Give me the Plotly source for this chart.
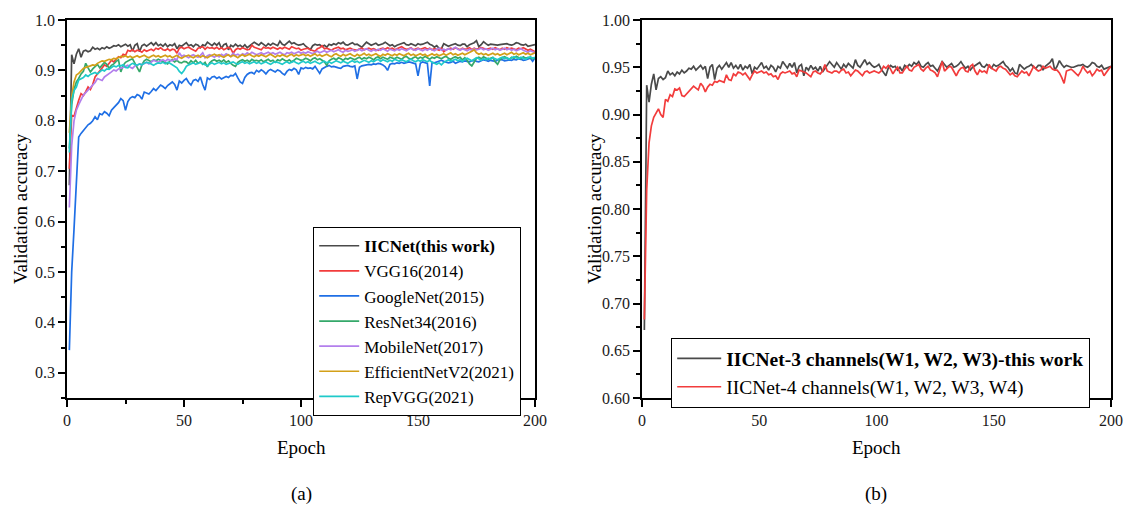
import plotly.graph_objects as go

# ---------------------------------------------------------------------------
# Validation accuracy per epoch (values stored in thousandths)
# ---------------------------------------------------------------------------
EPOCHS = list(range(1, 201))

IICNET = [
    672, 931, 913, 932, 943, 926, 938, 940, 937, 939, 946, 942, 944, 941, 945, 943, 947, 944, 946, 949,
    948, 951, 947, 950, 952, 948, 951, 938, 950, 953, 937, 949, 952, 948, 951, 955, 950, 955, 949, 952,
    948, 953, 947, 951, 949, 953, 943, 950, 948, 952, 955, 949, 951, 947, 952, 950, 945, 951, 949, 956,
    952, 949, 954, 950, 955, 944, 951, 953, 941, 950, 947, 952, 948, 950, 946, 951, 945, 949, 952, 956,
    953, 950, 955, 951, 948, 953, 950, 954, 951, 949, 958, 952, 950, 954, 958, 953, 955, 952, 950, 951,
    953, 948, 945, 941, 949, 952, 950, 951, 947, 950, 946, 952, 950, 953, 951, 955, 953, 956, 951, 950,
    953, 955, 951, 952, 949, 946, 951, 956, 953, 950, 952, 954, 950, 951, 953, 956, 952, 949, 951, 947,
    950, 952, 954, 955, 951, 950, 953, 951, 949, 953, 951, 952, 954, 956, 952, 950, 946, 949, 944, 943,
    953, 951, 948, 950, 951, 953, 950, 949, 952, 952, 947, 951, 953, 955, 959, 947, 951, 957, 953, 950,
    952, 951, 950, 950, 951, 952, 952, 953, 951, 950, 952, 955, 954, 951, 950, 952, 948, 949, 950, 951,
]

IICNET_4CH = [
    683, 820, 870, 888, 897, 902, 906, 900, 897, 916, 914, 921, 919, 927, 926, 928, 920, 919, 922, 925,
    927, 930, 928, 926, 933, 930, 924, 929, 932, 931, 935, 934, 936, 935, 934, 942, 937, 936, 943, 941,
    945, 944, 942, 944, 940, 937, 942, 946, 944, 945, 946, 944, 945, 942, 943, 940, 941, 937, 943, 945,
    944, 945, 946, 943, 944, 940, 947, 946, 945, 944, 942, 940, 945, 946, 944, 943, 946, 953, 946, 945,
    944, 946, 946, 944, 947, 948, 944, 945, 941, 944, 947, 946, 943, 941, 945, 946, 944, 945, 946, 945,
    944, 946, 951, 949, 952, 948, 943, 947, 950, 944, 944, 948, 951, 947, 946, 950, 952, 953, 948, 946,
    949, 951, 947, 946, 944, 940, 948, 956, 946, 949, 951, 950, 945, 941, 946, 949, 950, 946, 945, 951,
    953, 946, 942, 947, 945, 946, 944, 953, 949, 947, 946, 950, 951, 949, 948, 945, 942, 944, 941, 940,
    943, 946, 944, 945, 941, 946, 951, 948, 946, 947, 951, 949, 950, 951, 948, 947, 947, 944, 939, 933,
    946, 947, 948, 946, 944, 941, 945, 951, 947, 944, 946, 941, 944, 948, 946, 947, 941, 945, 948, 951,
]

VGG16 = [
    705, 811, 809, 828, 841, 854, 850, 858, 867, 862, 872, 887, 893, 899, 904, 911, 908, 915, 920, 917,
    923, 927, 925, 932, 930, 940, 938, 941, 937, 940, 939, 936, 941, 938, 940, 942, 939, 944, 942, 945,
    941, 940, 943, 939, 942, 941, 934, 944, 946, 943, 945, 946, 943, 940, 938, 944, 946, 947, 942, 946,
    944, 945, 943, 946, 942, 945, 941, 944, 946, 943, 934, 941, 944, 942, 945, 943, 941, 942, 950, 946,
    944, 943, 941, 946, 944, 945, 943, 946, 944, 942, 945, 943, 946, 944, 942, 947, 945, 943, 944, 940,
    942, 943, 944, 941, 939, 938, 943, 945, 949, 943, 944, 942, 940, 943, 945, 946, 943, 944, 941, 942,
    944, 942, 941, 940, 943, 944, 941, 943, 944, 942, 943, 941, 940, 943, 944, 942, 945, 943, 944, 941,
    943, 945, 947, 944, 942, 943, 945, 941, 943, 944, 942, 943, 945, 942, 944, 941, 943, 942, 940, 944,
    937, 941, 943, 944, 942, 945, 943, 941, 944, 942, 943, 945, 941, 944, 942, 943, 945, 944, 942, 943,
    944, 942, 945, 943, 941, 944, 942, 945, 943, 944, 942, 941, 944, 943, 945, 942, 940, 942, 939, 937,
]

GOOGLENET = [
    345, 500, 585, 680, 768, 775, 781, 788, 792, 795, 800, 808, 802, 814, 812, 818, 815, 810, 821, 826,
    831, 836, 844, 840, 821, 838, 845, 848, 846, 852, 850, 843, 857, 855, 853, 858, 864, 860, 866, 871,
    868, 864, 870, 873, 877, 872, 861, 879, 875, 880, 884, 876, 871, 880, 882, 878, 887, 872, 861, 885,
    882, 887, 888, 884, 887, 883, 885, 888, 886, 890, 889, 894, 885, 877, 874, 886, 892, 895, 896, 893,
    900, 897, 901, 898, 893, 899, 902, 900, 897, 901, 899, 894, 891, 898, 902, 900, 904, 901, 892, 905,
    903, 906, 904, 905, 903, 908, 902, 894, 903, 906, 908, 910, 907, 908, 906, 905, 904, 908, 909, 910,
    908, 907, 909, 883, 906, 909, 910, 911, 912, 911, 913, 912, 914, 913, 911, 907, 900, 912, 914, 913,
    915, 914, 916, 914, 915, 917, 916, 915, 913, 889, 914, 917, 915, 914, 869, 916, 915, 917, 918, 920,
    918, 917, 915, 916, 918, 914, 916, 918, 917, 919, 918, 917, 919, 920, 918, 917, 919, 921, 920, 918,
    920, 919, 918, 920, 922, 921, 919, 920, 921, 920, 922, 921, 923, 922, 920, 921, 923, 924, 918, 925,
]

RESNET34 = [
    745, 832, 862, 877, 884, 893, 898, 914, 905, 897, 903, 908, 912, 905, 910, 916, 912, 904, 910, 913,
    918, 921, 897, 910, 916, 919, 921, 923, 915, 906, 897, 911, 919, 922, 920, 917, 921, 919, 922, 920,
    918, 915, 913, 919, 921, 917, 920, 916, 915, 918, 917, 913, 919, 915, 920, 914, 917, 912, 916, 907,
    915, 919, 921, 918, 920, 917, 921, 916, 919, 914, 910, 908, 916, 919, 921, 918, 920, 917, 922, 919,
    920, 918, 921, 917, 919, 922, 918, 920, 916, 921, 919, 923, 920, 918, 921, 917, 920, 924, 922, 920,
    921, 924, 922, 919, 923, 925, 921, 923, 920, 917, 910, 919, 922, 924, 921, 925, 923, 920, 924, 922,
    925, 923, 921, 924, 926, 922, 925, 923, 926, 924, 921, 925, 927, 923, 926, 924, 922, 926, 925, 923,
    926, 924, 922, 926, 928, 924, 922, 925, 927, 923, 926, 924, 928, 925, 922, 926, 924, 927, 925, 923,
    926, 928, 924, 922, 925, 927, 924, 926, 921, 925, 920, 913, 909, 918, 924, 926, 923, 927, 925, 922,
    924, 926, 917, 912, 921, 925, 927, 924, 922, 926, 924, 928, 925, 923, 927, 924, 926, 925, 923, 925,
]

MOBILENET = [
    628, 750, 800, 821, 832, 841, 851, 856, 861, 866, 871, 876, 884, 882, 880, 887, 890, 894, 897, 901,
    899, 903, 904, 906, 908, 910, 906, 904, 909, 911, 913, 911, 914, 916, 913, 917, 920, 918, 916, 919,
    921, 918, 922, 920, 919, 923, 921, 935, 928, 930, 927, 925, 929, 931, 928, 926, 930, 935, 925, 929,
    931, 928, 926, 930, 927, 932, 929, 933, 931, 928, 934, 930, 932, 929, 933, 931, 935, 932, 936, 934,
    931, 933, 935, 932, 934, 936, 933, 935, 932, 934, 936, 933, 931, 935, 934, 936, 933, 935, 937, 934,
    936, 934, 937, 935, 933, 936, 938, 935, 937, 939, 936, 938, 940, 937, 939, 941, 938, 936, 940, 938,
    939, 941, 938, 940, 942, 939, 941, 943, 940, 938, 941, 939, 942, 940, 943, 941, 938, 942, 940, 939,
    942, 940, 943, 941, 939, 942, 944, 941, 940, 943, 941, 939, 942, 940, 943, 941, 939, 942, 944, 940,
    942, 940, 943, 941, 944, 946, 942, 940, 943, 941, 939, 942, 940, 943, 941, 942, 944, 941, 943, 940,
    942, 944, 941, 943, 940, 942, 944, 941, 943, 940, 942, 939, 941, 943, 940, 938, 936, 939, 937, 935,
]

EFFICIENTNETV2 = [
    776, 848, 877, 891, 894, 900, 904, 906, 907, 909, 911, 910, 914, 916, 919, 918, 920, 922, 921, 924,
    923, 926, 928, 927, 929, 926, 928, 925, 927, 929, 926, 928, 930, 927, 925, 928, 930, 927, 929, 926,
    928, 930, 927, 929, 925, 928, 930, 926, 924, 927, 929, 930, 927, 925, 928, 930, 926, 929, 927, 925,
    928, 930, 932, 929, 931, 928, 926, 929, 931, 927, 930, 928, 925, 929, 931, 928, 930, 932, 929, 927,
    930, 928, 931, 929, 927, 930, 932, 929, 926, 930, 928, 931, 929, 927, 930, 932, 928, 931, 929, 930,
    932, 929, 931, 928, 930, 933, 929, 931, 928, 930, 932, 929, 927, 931, 933, 930, 928, 932, 929, 931,
    933, 930, 928, 932, 929, 931, 934, 930, 932, 929, 931, 933, 930, 928, 932, 930, 933, 931, 929, 932,
    930, 933, 931, 929, 932, 934, 930, 932, 929, 931, 933, 930, 932, 928, 931, 933, 930, 932, 929, 931,
    933, 930, 932, 935, 931, 933, 930, 932, 934, 931, 933, 936, 938, 941, 935, 932, 934, 931, 933, 930,
    932, 934, 931, 933, 930, 932, 934, 931, 933, 936, 932, 934, 931, 933, 935, 932, 934, 931, 933, 935,
]

REPVGG = [
    737, 841, 860, 867, 881, 884, 886, 891, 888, 892, 894, 896, 893, 897, 901, 899, 903, 902, 906, 909,
    907, 910, 909, 911, 906, 905, 911, 914, 912, 910, 913, 911, 914, 916, 915, 912, 910, 913, 915, 914,
    916, 913, 916, 914, 911, 909, 905, 898, 894, 900, 908, 911, 913, 915, 912, 914, 916, 913, 911, 909,
    913, 915, 912, 914, 916, 913, 915, 912, 914, 916, 917, 914, 912, 915, 917, 914, 916, 913, 915, 917,
    914, 916, 913, 915, 917, 914, 912, 915, 917, 916, 914, 912, 915, 917, 914, 916, 918, 915, 913, 916,
    918, 915, 917, 914, 916, 918, 915, 913, 916, 918, 915, 917, 914, 916, 919, 917, 915, 918, 916, 914,
    917, 919, 916, 918, 915, 917, 920, 918, 916, 919, 917, 920, 922, 918, 921, 919, 917, 920, 918, 922,
    920, 918, 921, 919, 917, 920, 922, 919, 917, 920, 918, 921, 919, 917, 920, 916, 914, 912, 915, 911,
    916, 919, 921, 918, 920, 922, 919, 921, 918, 922, 924, 921, 919, 922, 925, 923, 920, 923, 921, 924,
    922, 925, 923, 921, 924, 926, 923, 925, 922, 924, 927, 925, 923, 926, 924, 922, 925, 927, 924, 926,
]

SERIES_A = [
    ("<b>IICNet(this work)</b>", IICNET, "#4a4a4a"),
    ("VGG16(2014)", VGG16, "#f23c3c"),
    ("GoogleNet(2015)", GOOGLENET, "#1f6fe5"),
    ("ResNet34(2016)", RESNET34, "#35a86a"),
    ("MobileNet(2017)", MOBILENET, "#b37fec"),
    ("EfficientNetV2(2021)", EFFICIENTNETV2, "#d3a019"),
    ("RepVGG(2021)", REPVGG, "#1fcaca"),
]

SERIES_B = [
    ("<b>IICNet-3 channels(W1, W2, W3)-this work</b>", IICNET, "#4a4a4a"),
    ("IICNet-4 channels(W1, W2, W3, W4)", IICNET_4CH, "#f23c3c"),
]

for _, vals, _ in SERIES_A + SERIES_B:
    if len(vals) != len(EPOCHS):
        raise ValueError("series length mismatch")


def acc(vals):
    return [v / 1000 for v in vals]


FONT = "Liberation Serif, Times New Roman, serif"
W, H = 1124, 508
LINE_W = 1.7

fig = go.Figure()

for name, vals, color in SERIES_A:
    fig.add_trace(go.Scatter(
        x=EPOCHS, y=acc(vals), mode="lines", name=name,
        line=dict(color=color, width=LINE_W),
        xaxis="x", yaxis="y", legend="legend",
    ))

for name, vals, color in SERIES_B:
    fig.add_trace(go.Scatter(
        x=EPOCHS, y=acc(vals), mode="lines", name=name,
        line=dict(color=color, width=LINE_W),
        xaxis="x2", yaxis="y2", legend="legend2",
    ))

# plot-area edges in pixels
AX_A = (67, 535)
AX_B = (642, 1111)
AX_TOP, AX_BOTTOM = 20, 398


def px_x(p):
    return p / W


def px_y(p):
    return 1 - p / H


axis_common = dict(
    showline=True, linecolor="black", linewidth=1.5, mirror=True,
    showgrid=False, zeroline=False,
    ticks="outside", ticklen=7, tickwidth=1.5, tickcolor="black",
    tickfont=dict(family=FONT, size=16, color="#1a1a1a"),
    automargin=False,
)

xaxis_common = dict(
    axis_common, range=[0, 200], tick0=0, dtick=50,
    minor=dict(ticks="outside", ticklen=4, tickwidth=1.5, tickcolor="black", dtick=25),
)

fig.update_layout(
    width=W, height=H,
    margin=dict(l=0, r=0, t=0, b=0),
    paper_bgcolor="white", plot_bgcolor="white",
    font=dict(family=FONT, color="black"),
    showlegend=True,
    xaxis=dict(xaxis_common, domain=[px_x(AX_A[0]), px_x(AX_A[1])], anchor="y"),
    yaxis=dict(
        axis_common, domain=[px_y(AX_BOTTOM), px_y(AX_TOP)], anchor="x",
        range=[0.25, 1.0], tick0=0, dtick=0.1, tickformat=".1f",
        minor=dict(ticks="outside", ticklen=4, tickwidth=1.5, tickcolor="black", dtick=0.05),
    ),
    xaxis2=dict(xaxis_common, domain=[px_x(AX_B[0]), px_x(AX_B[1])], anchor="y2"),
    yaxis2=dict(
        axis_common, domain=[px_y(AX_BOTTOM), px_y(AX_TOP)], anchor="x2",
        range=[0.6, 1.0], tick0=0, dtick=0.05, tickformat=".2f",
        minor=dict(ticks="outside", ticklen=4, tickwidth=1.5, tickcolor="black", dtick=0.025),
    ),
    legend=dict(
        x=px_x(313), y=px_y(227), xanchor="left", yanchor="top",
        bgcolor="white", bordercolor="black", borderwidth=1.2,
        font=dict(family=FONT, size=17, color="black"),
        itemwidth=40, tracegroupgap=0,
    ),
    legend2=dict(
        x=px_x(671), y=px_y(338), xanchor="left", yanchor="top",
        bgcolor="white", bordercolor="black", borderwidth=1.2,
        font=dict(family=FONT, size=19.5, color="black"),
        itemwidth=44, tracegroupgap=0,
    ),
)

title_font = dict(family=FONT, size=19, color="black")
annotations = [
    dict(text="Validation accuracy", x=px_x(21), y=px_y(209), textangle=-90),
    dict(text="Validation accuracy", x=px_x(595), y=px_y(209), textangle=-90),
    dict(text="Epoch", x=px_x(301), y=px_y(447)),
    dict(text="Epoch", x=px_x(876), y=px_y(447)),
    dict(text="(a)", x=px_x(301), y=px_y(494)),
    dict(text="(b)", x=px_x(876), y=px_y(494)),
]
for a in annotations:
    fig.add_annotation(
        xref="paper", yref="paper", showarrow=False,
        xanchor="center", yanchor="middle", font=title_font, **a,
    )

fig.write_html("out.html")
